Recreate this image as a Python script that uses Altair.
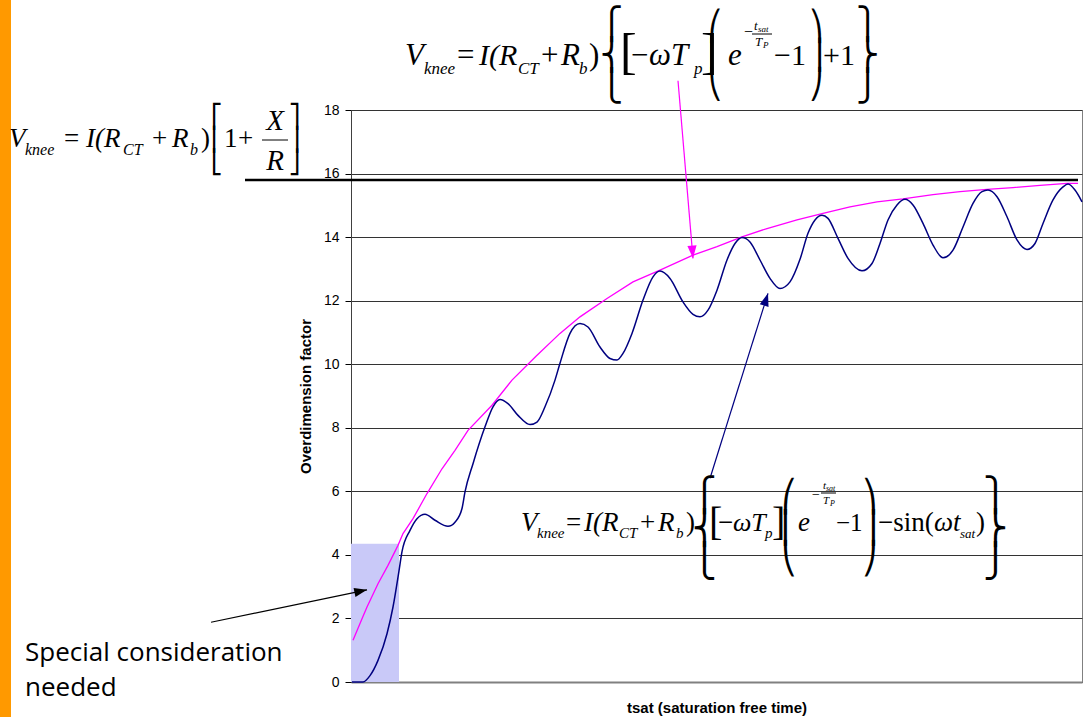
import altair as alt
import pandas as pd

# ---------------- data ----------------
# x: saturation-free time (arbitrary units, axis unlabeled), y: overdimension factor
navy_x = [1, 12, 19, 27, 36, 42, 48, 51, 59, 66, 74, 84, 97, 104, 111, 114, 122, 134, 142, 149,
          157, 167, 179, 186, 194, 204, 209, 219, 229, 237, 249, 259, 266, 272, 281, 292, 302, 309,
          319, 332, 342, 349, 357, 366, 376, 384, 391, 399, 409, 419, 429, 439, 449, 457, 464, 471,
          477, 487, 497, 511, 521, 529, 537, 546, 554, 562, 572, 582, 592, 602, 612, 622, 631, 637,
          646, 656, 666, 676, 684, 692, 702, 712, 717, 724, 731]
navy_y = [0.0, 0.0, 0.2, 0.68, 1.52, 2.36, 3.5, 4.1, 4.77, 5.14, 5.28, 5.09, 4.9, 5.03, 5.46, 5.98,
          6.87, 8.03, 8.66, 8.89, 8.76, 8.39, 8.1, 8.18, 8.66, 9.5, 10.03, 10.97, 11.28, 11.17, 10.54,
          10.18, 10.13, 10.34, 10.97, 12.02, 12.75, 12.93, 12.7, 11.96, 11.57, 11.49, 11.7, 12.33,
          13.28, 13.8, 13.99, 13.85, 13.28, 12.7, 12.38, 12.59, 13.3, 14.12, 14.54, 14.69, 14.59,
          13.96, 13.33, 12.94, 13.17, 13.8, 14.54, 15.01, 15.19, 15.01, 14.43, 13.75, 13.35, 13.59,
          14.32, 15.06, 15.43, 15.48, 15.27, 14.64, 13.91, 13.61, 13.8, 14.43, 15.17, 15.58, 15.67,
          15.48, 15.11]
env_x = [2, 11, 16, 27, 37, 47, 52, 62, 76, 91, 104, 117, 141, 161, 185, 209, 229, 256, 282,
         309, 342, 366, 391, 416, 446, 472, 499, 526, 552, 582, 609, 636, 662, 689, 716, 727]
env_y = [1.31, 1.99, 2.36, 3.09, 3.67, 4.3, 4.67, 5.14, 5.93, 6.71, 7.29, 7.92, 8.71, 9.5, 10.25,
         10.97, 11.49, 12.07, 12.59, 12.96, 13.43, 13.7, 14.01, 14.27, 14.54, 14.75, 14.95, 15.11,
         15.2, 15.34, 15.43, 15.5, 15.56, 15.63, 15.69, 15.69]
# shaded "special consideration" region
zone_x = [0, 48]
zone_y = [0, 4.35]
# knee-point limit line (1 + X/R)
limit_y = 15.8
limit_x = [-106, 727]
# annotation arrows: start (x, y) -> tip (x2, y2)
arrow_x = [327, 359, -140]
arrow_y = [18.92, 6.41, 1.88]
arrow_x2 = [342, 417, 16]
arrow_y2 = [13.33, 12.23, 2.9]
arrow_ang = [175.4, 17.5, 78.3]
arrow_col = ["#FF00FF", "#000080", "#000000"]
y_ticks = [0, 2, 4, 6, 8, 10, 12, 14, 16, 18]

# ---------------- layout ----------------
OX, OY = 351, 110          # plot-area origin on the page
W, H = 731, 572
SERIF = "Liberation Serif"
SANS = "Liberation Sans"
ONE = pd.DataFrame({"k": [0]})

xs = alt.Scale(domain=[0, 731], nice=False, zero=False)
ys = alt.Scale(domain=[0, 18], nice=False, zero=False)
XAX = alt.Axis(title="tsat (saturation free time)", labels=False, ticks=False, grid=False,
               domainColor="#808080", domainWidth=2, titleFont=SANS, titleFontSize=15,
               titleFontWeight="bold", titleColor="black", titlePadding=18)
YAX = alt.Axis(title="Overdimension factor", values=y_ticks, labelFont=SANS, labelFontSize=14,
               labelColor="black", tickColor="black", tickSize=6, labelPadding=6,
               domainColor="#404040", grid=True, gridColor="#333333", titleFont=SANS,
               titleFontSize=15, titleFontWeight="bold", titleColor="black", titlePadding=10)


def X(f):
    return alt.X(f, scale=xs, axis=XAX, title="tsat (saturation free time)")


def Y(f):
    return alt.Y(f, scale=ys, axis=YAX, title="Overdimension factor")


navy = pd.DataFrame({"t": navy_x, "v": navy_y})
env = pd.DataFrame({"t": env_x, "v": env_y})
zone = pd.DataFrame({"x0": [zone_x[0]], "x1": [zone_x[1]], "y0": [zone_y[0]], "y1": [zone_y[1]]})
limit = pd.DataFrame({"x0": [limit_x[0]], "x1": [limit_x[1]], "y0": [limit_y]})
arrows = pd.DataFrame({"x": arrow_x, "y": arrow_y, "x2": arrow_x2, "y2": arrow_y2,
                       "ang": arrow_ang, "col": arrow_col})

layers = []

# orange strip on the left page edge
layers.append(alt.Chart(ONE).mark_rect(color="#FF9900").encode(
    x=alt.value(-OX), x2=alt.value(-OX + 11), y=alt.value(-OY), y2=alt.value(717 - OY)))

layers.append(alt.Chart(zone).mark_rect(color="#C9C9F8").encode(
    x=X("x0:Q"), x2="x1:Q", y=Y("y0:Q"), y2="y1:Q"))

layers.append(alt.Chart(env).mark_line(color="#FF00FF", strokeWidth=1.3).encode(
    x=X("t:Q"), y=Y("v:Q")))
layers.append(alt.Chart(navy).mark_line(color="#000080", strokeWidth=1.5, interpolate="monotone").encode(
    x=X("t:Q"), y=Y("v:Q")))

layers.append(alt.Chart(limit).mark_rule(color="black", strokeWidth=2.5).encode(
    x=X("x0:Q"), x2="x1:Q", y=Y("y0:Q")))

layers.append(alt.Chart(arrows).mark_rule(strokeWidth=1.2).encode(
    x=X("x:Q"), y=Y("y:Q"), x2="x2:Q", y2="y2:Q", color=alt.Color("col:N", scale=None)))
layers.append(alt.Chart(arrows).mark_point(shape="M0,0 L-0.36,1 L0.36,1 Z", filled=True,
                                           size=650, opacity=1).encode(
    x=X("x2:Q"), y=Y("y2:Q"),
    angle=alt.Angle("ang:Q", scale=None), color=alt.Color("col:N", scale=None)))


def txt(s, x, y, size, style="italic", align="left", font=SERIF, baseline="alphabetic"):
    return alt.Chart(ONE).mark_text(text=s, font=font, fontSize=size, fontStyle=style,
                                    align=align, baseline=baseline, color="black").encode(
        x=alt.value(x - OX), y=alt.value(y - OY))


def big(chars, x, ytop, size):
    return alt.Chart(ONE).mark_text(text="\n".join(chars), lineBreak="\n", font="DejaVu Sans",
                                    fontSize=size, lineHeight=size, align="left", baseline="top",
                                    color="black").encode(
        x=alt.value(x - OX), y=alt.value(ytop - OY))


def frac(x0, x1, y):
    return alt.Chart(ONE).mark_rule(color="black", strokeWidth=1).encode(
        x=alt.value(x0 - OX), x2=alt.value(x1 - OX), y=alt.value(y - OY))


pieces = [
    # top formula
    ("V", 405, 65, 31, "italic"), ("knee", 424, 74, 17, "italic"), ("=", 457, 65, 31, "normal"),
    ("I(R", 479, 65, 30, "italic"), ("CT", 518, 74, 17, "italic"), ("+", 541, 65, 31, "normal"),
    ("R", 561, 65, 31, "italic"), ("b", 579, 74, 17, "italic"), (")", 589, 65, 31, "normal"),
    ("[", 620, 68, 50, "normal"), ("−", 631, 65, 31, "normal"), ("ωT", 649, 65, 31, "italic"),
    ("p", 694, 74, 17, "italic"),
    ("]", 701, 68, 50, "normal"), ("e", 728, 65, 31, "italic"), ("−", 744, 37, 16, "normal"),
    ("t", 754, 30, 13, "italic"), ("sat", 758, 32, 9, "italic"), ("T", 755, 46, 13, "italic"),
    ("P", 763, 48, 9, "italic"), ("−1", 774, 65, 30, "normal"), ("+1", 823, 65, 30, "normal"),
    # left formula
    ("V", 9, 147, 27, "italic"), ("knee", 25, 155, 16, "italic"), ("=", 64, 147, 27, "normal"),
    ("I(R", 86, 147, 27, "italic"), ("CT", 123, 155, 16, "italic"), ("+", 152, 147, 27, "normal"),
    ("R", 172, 147, 27, "italic"), ("b", 190, 155, 16, "italic"), (")", 201, 147, 27, "normal"),
    ("1", 224, 147, 27, "normal"), ("+", 238, 147, 27, "normal"),
    # bottom formula
    ("V", 521, 531, 27, "italic"), ("knee", 537, 538, 15, "italic"), ("=", 566, 531, 27, "normal"),
    ("I(R", 584, 531, 27, "italic"), ("CT", 619, 538, 15, "italic"), ("+", 640, 531, 27, "normal"),
    ("R", 658, 531, 27, "italic"), ("b", 676, 538, 15, "italic"), (")", 686, 531, 27, "normal"),
    ("[", 709, 535, 40, "normal"), ("−", 718, 531, 27, "normal"), ("ωT", 733, 531, 26, "italic"),
    ("p", 765, 538, 15, "italic"),
    ("]", 772, 535, 40, "normal"), ("e", 798, 531, 27, "italic"), ("−", 812, 499, 14, "normal"),
    ("t", 823, 489, 11, "italic"), ("sat", 826, 491, 8, "italic"), ("T", 823, 504, 11, "italic"),
    ("P", 830, 506, 8, "italic"), ("−1", 836, 531, 25, "normal"), ("−sin(", 878, 531, 27, "normal"),
    ("ωt", 934, 531, 27, "italic"), ("sat", 960, 538, 13, "italic"), (")", 976, 531, 27, "normal"),
]
for s, x, y, size, style in pieces:
    layers.append(txt(s, x, y, size, style))
layers.append(txt("X", 275, 130, 29, "italic", align="center"))
layers.append(txt("R", 275, 170, 29, "italic", align="center"))

# tall delimiters
layers += [
    big("⎧⎨⎩", 600, 10, 31), big("⎛⎜⎝", 708, 13, 29), big("⎞⎟⎠", 809, 13, 29), big("⎫⎬⎭", 856, 10, 31),
    big("⎡⎢⎣", 211, 106, 23), big("⎤⎥⎦", 289, 106, 23),
    big("⎧⎨⎩", 692, 480, 33), big("⎛⎜⎝", 781, 483, 31), big("⎞⎟⎠", 862, 483, 31), big("⎫⎬⎭", 983, 480, 33),
]
layers += [frac(752, 772, 34), frac(262, 288, 140), frac(821, 836, 493)]

# note text
layers.append(txt("Special consideration", 25, 661, 26, "normal", font="Open Sans"))
layers.append(txt("needed", 25, 696, 26, "normal", font="Open Sans"))

chart = alt.layer(*layers).properties(
    width=W, height=H,
    autosize=alt.AutoSizeParams(type="none"),
    padding={"left": OX, "top": OY, "right": 1085 - OX - W, "bottom": 717 - OY - H},
    background="white",
).configure_view(stroke="#808080", strokeWidth=1)

chart.save("out.html", embed_options={"renderer": "svg", "actions": False})
